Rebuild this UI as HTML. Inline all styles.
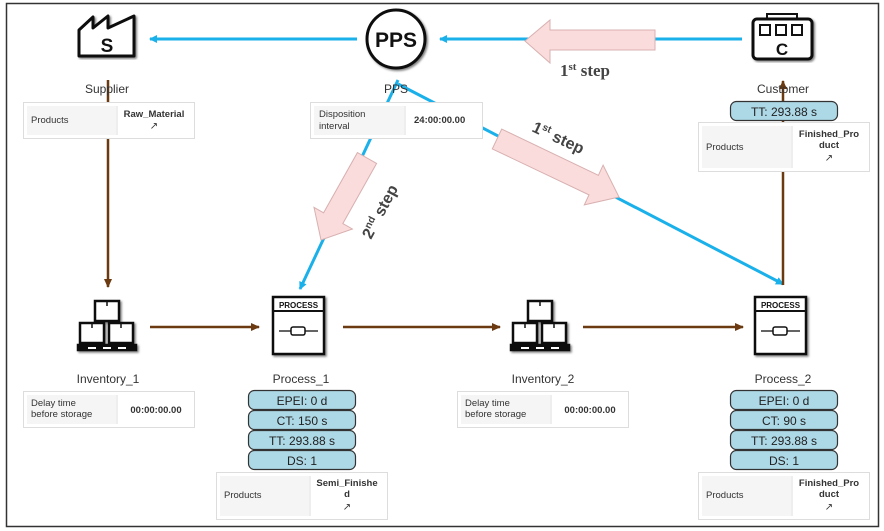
<!DOCTYPE html>
<html><head><meta charset="utf-8"><style>
body{margin:0;background:#fff;}
svg{display:block;font-family:"Liberation Sans",sans-serif;}
</style></head><body>
<svg width="884" height="531" viewBox="0 0 884 531" xmlns="http://www.w3.org/2000/svg">
<defs>
<marker id="ab" markerWidth="8" markerHeight="8" refX="7" refY="4" orient="auto" markerUnits="userSpaceOnUse"><path d="M0,0 L8,4 L0,8 Z" fill="#1ab0ea"/></marker>
<marker id="ar" markerWidth="9" markerHeight="8" refX="8" refY="4" orient="auto" markerUnits="userSpaceOnUse"><path d="M0,0 L9,4 L0,8 Z" fill="#6b3a10"/></marker>
<filter id="sh"><feDropShadow dx="1.5" dy="1.5" stdDeviation="1" flood-opacity="0.5"/></filter>
</defs>
<rect x="6.5" y="3.5" width="872" height="523" fill="#fff" stroke="#333" stroke-width="1.5"/>

<line x1="357" y1="39" x2="150" y2="39" stroke="#1ab0ea" stroke-width="3" marker-end="url(#ab)"/>
<line x1="742" y1="39" x2="440" y2="39" stroke="#1ab0ea" stroke-width="3" marker-end="url(#ab)"/>
<line x1="398" y1="80" x2="300" y2="289" stroke="#1ab0ea" stroke-width="3" marker-end="url(#ab)"/>
<line x1="398" y1="84" x2="783" y2="284" stroke="#1ab0ea" stroke-width="3" marker-end="url(#ab)"/>

<line x1="108" y1="80" x2="108" y2="287" stroke="#6b3a10" stroke-width="2.5" marker-end="url(#ar)"/>
<line x1="783" y1="285" x2="783" y2="81" stroke="#6b3a10" stroke-width="2.5" marker-end="url(#ar)"/>
<line x1="150" y1="327" x2="259" y2="327" stroke="#6b3a10" stroke-width="2.5" marker-end="url(#ar)"/>
<line x1="343" y1="327" x2="500" y2="327" stroke="#6b3a10" stroke-width="2.5" marker-end="url(#ar)"/>
<line x1="583" y1="327" x2="743" y2="327" stroke="#6b3a10" stroke-width="2.5" marker-end="url(#ar)"/>

<polygon points="655,30 550,30 550,20 525,41 550,63 550,50 655,50" fill="#fbdcdc" stroke="#d8b0b0"/>
<text x="560" y="76" font-family="Liberation Serif,serif" font-weight="bold" font-size="17" fill="#444">1<tspan font-size="11" dy="-6">st</tspan><tspan dy="6"> step</tspan></text>
<polygon points="357.4,152.6 376.6,163.4 342.8,223.6 352.4,229 321,240 314,207.4 323.6,212.8" fill="#fbdcdc" stroke="#d8b0b0"/>
<text transform="translate(371,240) rotate(-62)" font-weight="bold" font-size="16" fill="#444">2<tspan font-size="10" dy="-6">nd</tspan><tspan dy="6"> step</tspan></text>
<polygon points="501.7,129.1 598.4,175.3 603.1,165.1 619,197 584.3,204.9 589,194.9 492.3,148.9" fill="#fbdcdc" stroke="#d8b0b0"/>
<text transform="translate(531,131) rotate(25)" font-weight="bold" font-size="16" fill="#444">1<tspan font-size="10" dy="-6">st</tspan><tspan dy="6"> step</tspan></text>

<path d="M79,30 L93,17 L93,28 L108,16 L108,28 L134,16 L134,56 L79,56 Z" fill="#fff" stroke="#111" stroke-width="3" stroke-linejoin="round" filter="url(#sh)"/>
<text x="107" y="52" text-anchor="middle" font-weight="bold" font-size="19" fill="#111">S</text>
<circle cx="396" cy="39" r="29" fill="#fff" stroke="#111" stroke-width="3" filter="url(#sh)"/>
<text x="396" y="47" text-anchor="middle" font-weight="bold" font-size="21" fill="#111">PPS</text>
<rect x="767" y="14" width="30" height="6" fill="#fff" stroke="#111" stroke-width="2"/>
<rect x="753" y="19" width="59" height="40" rx="4" fill="#fff" stroke="#111" stroke-width="3" filter="url(#sh)"/>
<rect x="760" y="25" width="10" height="10" fill="none" stroke="#111" stroke-width="2"/>
<rect x="776" y="25" width="10" height="10" fill="none" stroke="#111" stroke-width="2"/>
<rect x="792" y="25" width="10" height="10" fill="none" stroke="#111" stroke-width="2"/>
<text x="782" y="55" text-anchor="middle" font-weight="bold" font-size="17" fill="#111">C</text>

<g font-size="12" fill="#333" text-anchor="middle">
<text x="107" y="93">Supplier</text>
<text x="396" y="93">PPS</text>
<text x="783" y="93">Customer</text>
<text x="108" y="383">Inventory_1</text>
<text x="301" y="383">Process_1</text>
<text x="543" y="383">Inventory_2</text>
<text x="783" y="383">Process_2</text>
</g>

<g filter="url(#sh)" fill="#fff" stroke="#111" stroke-width="2.5">
<rect x="95" y="301" width="24" height="20"/><rect x="80" y="323" width="24" height="20"/><rect x="109" y="323" width="24" height="20"/>
<rect x="78" y="345" width="58" height="5" fill="#111"/>
</g>
<g stroke="#111" stroke-width="1.5"><line x1="107" y1="301" x2="107" y2="306"/><line x1="92" y1="323" x2="92" y2="328"/><line x1="121" y1="323" x2="121" y2="328"/></g>
<g fill="#fff"><rect x="88" y="347" width="8" height="2"/><rect x="103" y="347" width="8" height="2"/><rect x="118" y="347" width="8" height="2"/></g>

<g filter="url(#sh)" fill="#fff" stroke="#111" stroke-width="2.5">
<rect x="528" y="301" width="24" height="20"/><rect x="513" y="323" width="24" height="20"/><rect x="542" y="323" width="24" height="20"/>
<rect x="511" y="345" width="58" height="5" fill="#111"/>
</g>
<g stroke="#111" stroke-width="1.5"><line x1="540" y1="301" x2="540" y2="306"/><line x1="525" y1="323" x2="525" y2="328"/><line x1="554" y1="323" x2="554" y2="328"/></g>
<g fill="#fff"><rect x="521" y="347" width="8" height="2"/><rect x="536" y="347" width="8" height="2"/><rect x="551" y="347" width="8" height="2"/></g>

<g>
<rect x="273" y="297" width="51" height="57" fill="#fff" stroke="#111" stroke-width="2.5" filter="url(#sh)"/>
<line x1="273" y1="311" x2="324" y2="311" stroke="#111" stroke-width="2"/>
<text x="298.5" y="308" text-anchor="middle" font-weight="bold" font-size="8" fill="#111">PROCESS</text>
<line x1="279" y1="331" x2="291" y2="331" stroke="#111" stroke-width="1.3"/><rect x="291" y="327" width="14" height="8" rx="2" fill="none" stroke="#111" stroke-width="1.5"/><line x1="305" y1="331" x2="318" y2="331" stroke="#111" stroke-width="1.3"/>
</g>
<g>
<rect x="755" y="297" width="51" height="57" fill="#fff" stroke="#111" stroke-width="2.5" filter="url(#sh)"/>
<line x1="755" y1="311" x2="806" y2="311" stroke="#111" stroke-width="2"/>
<text x="780.5" y="308" text-anchor="middle" font-weight="bold" font-size="8" fill="#111">PROCESS</text>
<line x1="761" y1="331" x2="773" y2="331" stroke="#111" stroke-width="1.3"/><rect x="773" y="327" width="14" height="8" rx="2" fill="none" stroke="#111" stroke-width="1.5"/><line x1="787" y1="331" x2="800" y2="331" stroke="#111" stroke-width="1.3"/>
</g>

<g font-size="9.5" fill="#333">
<rect x="23.5" y="102.5" width="171" height="36" fill="#fff" stroke="#ddd"/><rect x="27" y="106" width="89" height="29" fill="#f5f5f5"/><line x1="117" y1="106" x2="117" y2="135" stroke="#ddd"/>
<text x="31" y="123">Products</text><text x="154" y="117" text-anchor="middle" font-weight="bold">Raw_Material</text><text x="154" y="129" text-anchor="middle" font-size="10">↗</text>

<rect x="310.5" y="102.5" width="172" height="36" fill="#fff" stroke="#ddd"/><rect x="314" y="106" width="90" height="29" fill="#f5f5f5"/><line x1="405" y1="106" x2="405" y2="135" stroke="#ddd"/>
<text x="319" y="117">Disposition</text><text x="319" y="129">interval</text><text x="414" y="123" font-weight="bold">24:00:00.00</text>

<rect x="698.5" y="122.5" width="171" height="49" fill="#fff" stroke="#ddd"/><rect x="702" y="126" width="89" height="42" fill="#f5f5f5"/><line x1="792" y1="126" x2="792" y2="168" stroke="#ddd"/>
<text x="706" y="150">Products</text><text x="829" y="137" text-anchor="middle" font-weight="bold">Finished_Pro</text><text x="829" y="148" text-anchor="middle" font-weight="bold">duct</text><text x="829" y="161" text-anchor="middle" font-size="10">↗</text>

<rect x="23.5" y="391.5" width="171" height="36" fill="#fff" stroke="#ddd"/><rect x="27" y="395" width="89" height="29" fill="#f5f5f5"/><line x1="117" y1="395" x2="117" y2="424" stroke="#ddd"/>
<text x="31" y="406">Delay time</text><text x="31" y="417">before storage</text><text x="156" y="413" text-anchor="middle" font-weight="bold">00:00:00.00</text>

<rect x="457.5" y="391.5" width="171" height="36" fill="#fff" stroke="#ddd"/><rect x="461" y="395" width="89" height="29" fill="#f5f5f5"/><line x1="551" y1="395" x2="551" y2="424" stroke="#ddd"/>
<text x="465" y="406">Delay time</text><text x="465" y="417">before storage</text><text x="590" y="413" text-anchor="middle" font-weight="bold">00:00:00.00</text>

<rect x="216.5" y="472.5" width="171" height="47" fill="#fff" stroke="#ddd"/><rect x="220" y="476" width="89" height="40" fill="#f5f5f5"/><line x1="310" y1="476" x2="310" y2="516" stroke="#ddd"/>
<text x="224" y="498">Products</text><text x="347" y="486" text-anchor="middle" font-weight="bold">Semi_Finishe</text><text x="347" y="497" text-anchor="middle" font-weight="bold">d</text><text x="347" y="510" text-anchor="middle" font-size="10">↗</text>

<rect x="698.5" y="472.5" width="171" height="47" fill="#fff" stroke="#ddd"/><rect x="702" y="476" width="89" height="40" fill="#f5f5f5"/><line x1="792" y1="476" x2="792" y2="516" stroke="#ddd"/>
<text x="706" y="498">Products</text><text x="829" y="486" text-anchor="middle" font-weight="bold">Finished_Pro</text><text x="829" y="497" text-anchor="middle" font-weight="bold">duct</text><text x="829" y="510" text-anchor="middle" font-size="10">↗</text>
</g>

<g fill="#add8e6" stroke="#333" stroke-width="1.2">
<rect x="730.5" y="101.5" width="107" height="19" rx="6"/>
<rect x="248.5" y="390.5" width="107" height="19" rx="6"/><rect x="248.5" y="410.5" width="107" height="19" rx="6"/><rect x="248.5" y="430.5" width="107" height="19" rx="6"/><rect x="248.5" y="450.5" width="107" height="19" rx="6"/>
<rect x="730.5" y="390.5" width="107" height="19" rx="6"/><rect x="730.5" y="410.5" width="107" height="19" rx="6"/><rect x="730.5" y="430.5" width="107" height="19" rx="6"/><rect x="730.5" y="450.5" width="107" height="19" rx="6"/>
</g>
<g font-size="12" fill="#222" text-anchor="middle">
<text x="784" y="116">TT: 293.88 s</text>
<text x="302" y="405">EPEI: 0 d</text><text x="302" y="425">CT: 150 s</text><text x="302" y="445">TT: 293.88 s</text><text x="302" y="465">DS: 1</text>
<text x="784" y="405">EPEI: 0 d</text><text x="784" y="425">CT: 90 s</text><text x="784" y="445">TT: 293.88 s</text><text x="784" y="465">DS: 1</text>
</g>
</svg>
</body></html>
